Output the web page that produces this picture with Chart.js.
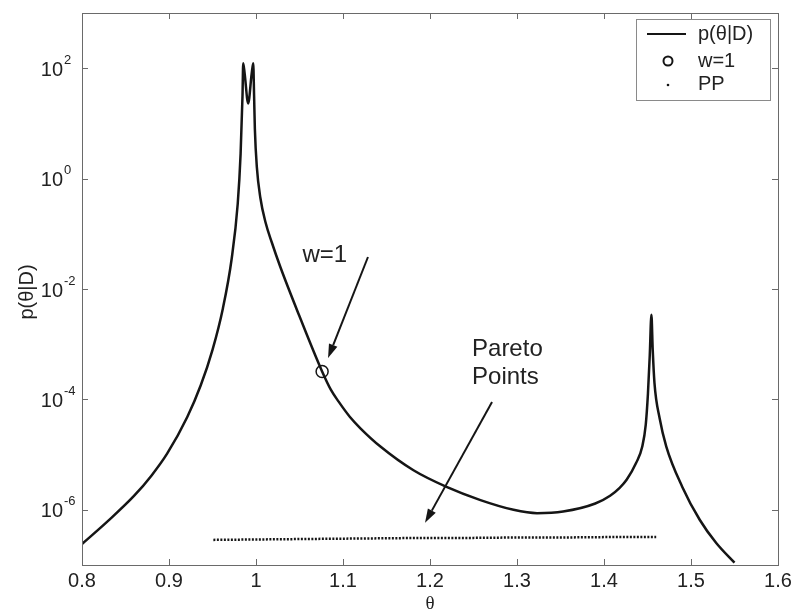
<!DOCTYPE html>
<html>
<head>
<meta charset="utf-8">
<script src="https://cdn.jsdelivr.net/npm/chart.js@4.4.1/dist/chart.umd.min.js"></script>
<style>
  html, body { margin: 0; background: #fff; }
</style>
</head>
<body>
<canvas id="chart" width="800" height="614"></canvas>
<script>
// p(θ|D) curve (θ, value)
const thetaCurve = [0.800, 0.830, 0.860, 0.880, 0.898, 0.921, 0.9365, 0.950, 0.962, 0.972,
  0.979, 0.9823, 0.9845, 0.9853, 0.987, 0.991, 0.995, 0.9968, 0.9978, 0.9987,
  1.001, 1.005, 1.011, 1.018, 1.028, 1.050, 1.076, 1.086, 1.095, 1.108,
  1.120, 1.143, 1.181, 1.219, 1.258, 1.296, 1.323, 1.353, 1.390, 1.407,
  1.418, 1.426, 1.437, 1.444, 1.448, 1.4505, 1.4526, 1.4545, 1.456, 1.458,
  1.464, 1.4716, 1.490, 1.510, 1.529, 1.550];
const pCurve = [2.4e-7, 6.3e-7, 1.8e-6, 4.2e-6, 1.05e-5, 4.8e-5, 1.8e-4, 7.9e-4, 4.5e-3, 3.5e-2,
  0.35, 2.8, 32, 123, 79, 23, 79, 123, 32, 7.9,
  1.6, 0.45, 0.16, 0.071, 0.025, 3.2e-3, 3.2e-4, 1.5e-4, 9.1e-5, 4.8e-5,
  3.0e-5, 1.4e-5, 5.2e-6, 2.6e-6, 1.5e-6, 1.0e-6, 8.7e-7, 9.3e-7, 1.3e-6, 1.8e-6,
  2.5e-6, 3.5e-6, 7.1e-6, 1.4e-5, 3.5e-5, 1.26e-4, 6.3e-4, 3.4e-3, 7.9e-4, 2.0e-4,
  4.5e-5, 1.4e-5, 2.6e-6, 6.6e-7, 2.5e-7, 1.1e-7];

// w=1 point
const thetaW1 = [1.076];
const pW1 = [3.2e-4];

// Pareto points (dotted row near the bottom)
const thetaPP = [0.951, 1.00, 1.05, 1.10, 1.15, 1.20, 1.25, 1.30, 1.35, 1.40, 1.46];
const pPP = [2.85e-7, 2.9e-7, 2.95e-7, 3.0e-7, 3.05e-7, 3.1e-7, 3.1e-7, 3.15e-7, 3.15e-7, 3.2e-7, 3.2e-7];

const xTicks = [0.8, 0.9, 1.0, 1.1, 1.2, 1.3, 1.4, 1.5, 1.6];
const yTickExps = [-6, -4, -2, 0, 2];

const legendLabels = ["p(θ|D)", "w=1", "PP"];

// annotations in data units: [θ, p]
const noteW1 = { text: ["w=1"], at: [1.0534, 0.041], from: [1.1287, 0.038], to: [1.0828, 5.6e-4] };
const notePareto = { text: ["Pareto", "Points"], at: [1.2483, 8.2e-4], from: [1.2713, 9.0e-5], to: [1.1943, 5.8e-7] };

const INK = "#151515";
const FRAME = "#6a6a6a";
const SANS = "'Liberation Sans', Arial, sans-serif";

function pts(xs, ys) {
  return xs.map((x, i) => ({ x: x, y: ys[i] }));
}

function arrow(ctx, x1, y1, x2, y2) {
  const a = Math.atan2(y2 - y1, x2 - x1);
  const len = 14, half = 4.5;
  const bx = x2 - len * Math.cos(a), by = y2 - len * Math.sin(a);
  ctx.beginPath();
  ctx.moveTo(x1, y1);
  ctx.lineTo(bx, by);
  ctx.stroke();
  ctx.beginPath();
  ctx.moveTo(x2, y2);
  ctx.lineTo(bx + half * Math.sin(a), by - half * Math.cos(a));
  ctx.lineTo(bx - half * Math.sin(a), by + half * Math.cos(a));
  ctx.closePath();
  ctx.fill();
}

const decorations = {
  id: "decorations",
  afterDatasetsDraw(chart) {
    const { ctx, chartArea: a, scales: { x, y } } = chart;
    ctx.save();

    // box and inward ticks on all four sides
    ctx.strokeStyle = FRAME;
    ctx.lineWidth = 1;
    ctx.strokeRect(Math.round(a.left) + 0.5, Math.round(a.top) + 0.5, Math.round(a.width), Math.round(a.height));
    ctx.beginPath();
    x.ticks.forEach((t) => {
      const px = Math.round(x.getPixelForValue(t.value)) + 0.5;
      ctx.moveTo(px, a.bottom); ctx.lineTo(px, a.bottom - 6);
      ctx.moveTo(px, a.top); ctx.lineTo(px, a.top + 6);
    });
    y.ticks.forEach((t) => {
      const py = Math.round(y.getPixelForValue(t.value)) + 0.5;
      ctx.moveTo(a.left, py); ctx.lineTo(a.left + 6, py);
      ctx.moveTo(a.right, py); ctx.lineTo(a.right - 6, py);
    });
    ctx.stroke();

    // y tick labels as 10 with a raised exponent
    ctx.fillStyle = "#222";
    ctx.textBaseline = "middle";
    y.ticks.forEach((t) => {
      const py = y.getPixelForValue(t.value);
      const e = Math.round(Math.log10(t.value));
      ctx.font = "20px " + SANS;
      ctx.textAlign = "right";
      ctx.fillText("10", 63, py + 2);
      ctx.font = "13px " + SANS;
      ctx.textAlign = "left";
      ctx.fillText(e < 0 ? "-" + (-e) : String(e), 64, py - 8);
    });

    // axis titles
    ctx.font = "19px 'Liberation Serif', 'Times New Roman', serif";
    ctx.textAlign = "center";
    ctx.fillText("θ", (a.left + a.right) / 2, 604);
    ctx.save();
    ctx.translate(27, 292);
    ctx.rotate(-Math.PI / 2);
    ctx.font = "20px " + SANS;
    ctx.fillText("p(θ|D)", 0, 0);
    ctx.restore();

    // annotations with arrows
    ctx.strokeStyle = INK;
    ctx.lineWidth = 2;
    [noteW1, notePareto].forEach((n) => {
      ctx.font = "24px " + SANS;
      ctx.textAlign = "left";
      ctx.fillStyle = "#222";
      const tx = x.getPixelForValue(n.at[0]);
      const ty = y.getPixelForValue(n.at[1]);
      n.text.forEach((s, i) => ctx.fillText(s, tx, ty + i * 28));
      ctx.fillStyle = INK;
      arrow(ctx, x.getPixelForValue(n.from[0]), y.getPixelForValue(n.from[1]),
        x.getPixelForValue(n.to[0]), y.getPixelForValue(n.to[1]));
    });

    // legend box in the upper right of the plot
    const lx = 636, ly = 19, lw = 134, lh = 81;
    ctx.fillStyle = "#fff";
    ctx.fillRect(lx, ly, lw, lh);
    ctx.strokeStyle = "#8a8a8a";
    ctx.lineWidth = 1;
    ctx.strokeRect(lx + 0.5, ly + 0.5, lw, lh);
    const rows = [34, 61, 84];
    ctx.strokeStyle = INK;
    ctx.fillStyle = INK;
    ctx.lineWidth = 2.2;
    ctx.beginPath(); ctx.moveTo(647, rows[0]); ctx.lineTo(686, rows[0]); ctx.stroke();
    ctx.lineWidth = 2;
    ctx.beginPath(); ctx.arc(668, rows[1], 4.5, 0, Math.PI * 2); ctx.stroke();
    ctx.beginPath(); ctx.arc(668, rows[2] + 1, 1.3, 0, Math.PI * 2); ctx.fill();
    ctx.fillStyle = "#222";
    ctx.font = "20px " + SANS;
    ctx.textAlign = "left";
    legendLabels.forEach((s, i) => ctx.fillText(s, 698, rows[i]));

    ctx.restore();
  },
};

new Chart(document.getElementById("chart"), {
  type: "line",
  data: {
    datasets: [
      {
        label: legendLabels[0],
        data: pts(thetaCurve, pCurve),
        borderColor: INK,
        borderWidth: 2.5,
        pointRadius: 0,
        cubicInterpolationMode: "monotone",
      },
      {
        label: legendLabels[1],
        data: pts(thetaW1, pW1),
        showLine: false,
        pointRadius: 6,
        pointBorderWidth: 1.5,
        pointBorderColor: INK,
        pointBackgroundColor: "rgba(0,0,0,0)",
      },
      {
        label: legendLabels[2],
        data: pts(thetaPP, pPP),
        borderColor: INK,
        borderWidth: 2.5,
        borderDash: [2, 1.5],
        pointRadius: 0,
        tension: 0,
      },
    ],
  },
  options: {
    responsive: false,
    devicePixelRatio: 1,
    animation: false,
    layout: { padding: { top: 13, right: 22, left: 0, bottom: 0 } },
    plugins: { legend: { display: false }, tooltip: { enabled: false } },
    scales: {
      x: {
        type: "linear",
        min: 0.8,
        max: 1.6,
        afterBuildTicks: (s) => { s.ticks = xTicks.map((v) => ({ value: v })); },
        afterFit: (s) => { s.height = 49; },
        grid: { display: false, drawTicks: false },
        border: { display: false },
        ticks: {
          color: "#222",
          padding: 4,
          font: { family: SANS, size: 20 },
          maxRotation: 0,
          callback: (v) => String(Number(v.toFixed(1))),
        },
      },
      y: {
        type: "logarithmic",
        min: 1e-7,
        max: 1e3,
        afterBuildTicks: (s) => { s.ticks = yTickExps.map((e) => ({ value: Math.pow(10, e) })); },
        afterFit: (s) => { s.width = 82; },
        grid: { display: false, drawTicks: false },
        border: { display: false },
        ticks: { display: false },
      },
    },
  },
  plugins: [decorations],
});
</script>
</body>
</html>
